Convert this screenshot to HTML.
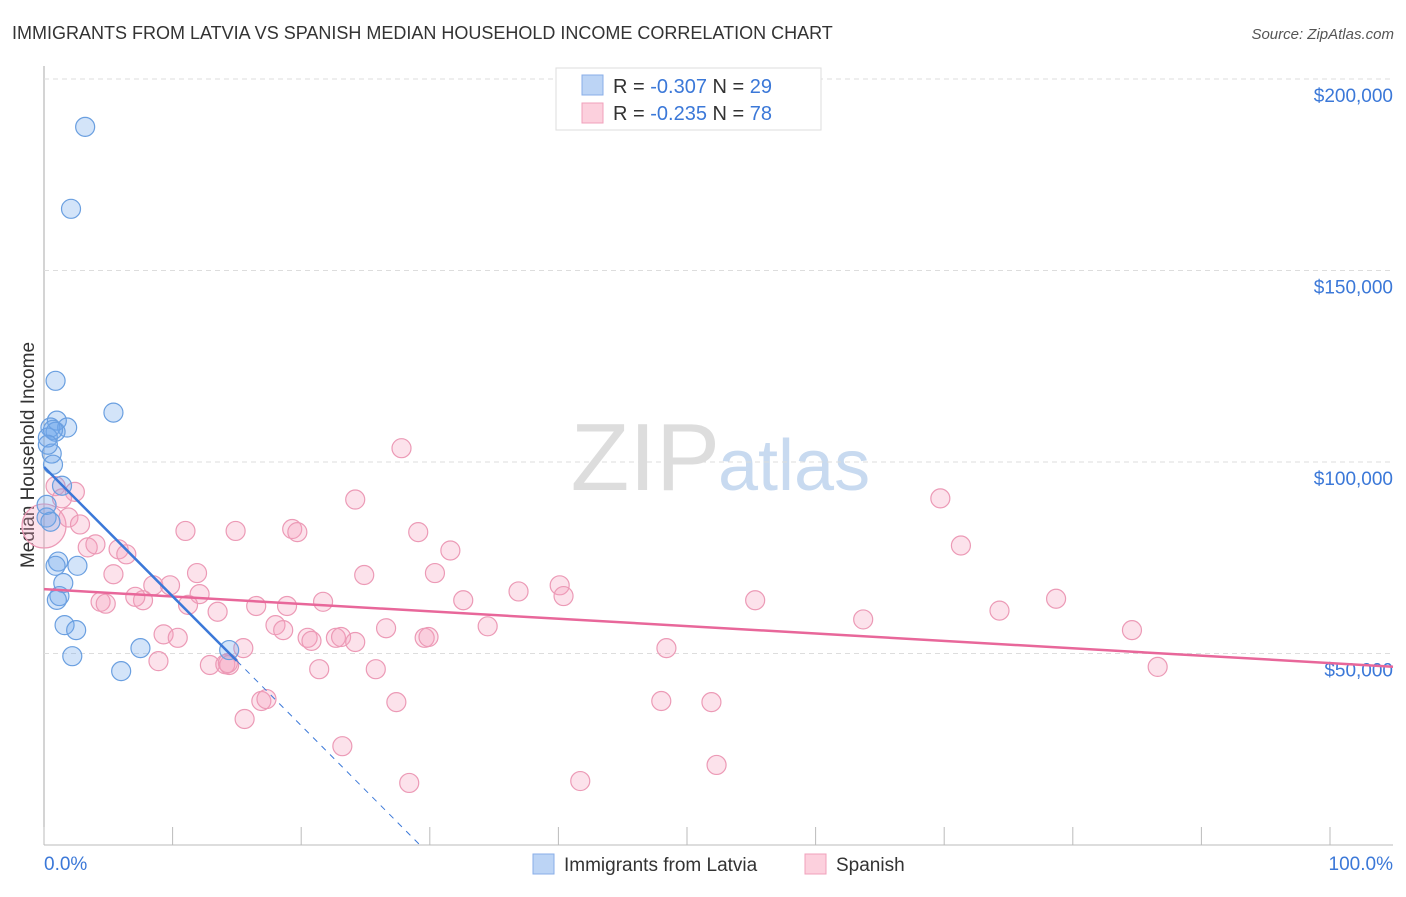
<!DOCTYPE html>
<html><head><meta charset="utf-8"><style>
body{margin:0;background:#fff;font-family:"Liberation Sans",sans-serif;}
svg text{font-family:"Liberation Sans",sans-serif;}
</style></head><body>
<svg id="c" width="1406" height="892">
<text x="12" y="39" font-size="18" fill="#333">IMMIGRANTS FROM LATVIA VS SPANISH MEDIAN HOUSEHOLD INCOME CORRELATION CHART</text>
<text x="1394" y="39" font-size="15" fill="#555" font-style="italic" text-anchor="end">Source: ZipAtlas.com</text>
<text x="720" y="490" font-size="96" fill="#ddd" text-anchor="end" font-family="Liberation Serif">ZIP</text>
<text x="718" y="490" font-size="72" fill="#c8daf0">atlas</text>
<text transform="translate(34,455) rotate(-90)" font-size="19" fill="#333" text-anchor="middle">Median Household Income</text>
<g id="grid"></g><g id="pts"></g><g id="lines"></g>
<g>
<rect x="556" y="68" width="265" height="62" fill="#fff" stroke="#ddd"/>
<rect x="582" y="75" width="21" height="20" fill="#bcd4f5" stroke="#88aee8"/>
<rect x="582" y="103" width="21" height="20" fill="#fcd0dd" stroke="#f0a0bb"/>
<text x="613" y="93" font-size="20" fill="#333">R = <tspan fill="#3b78d8">-0.307</tspan>   N = <tspan fill="#3b78d8">29</tspan></text>
<text x="613" y="120" font-size="20" fill="#333">R = <tspan fill="#3b78d8"> -0.235</tspan>   N = <tspan fill="#3b78d8">78</tspan></text>
</g>
<g>
<rect x="533" y="854" width="21" height="20" fill="#bcd4f5" stroke="#88aee8"/>
<text x="564" y="871" font-size="19" fill="#333">Immigrants from Latvia</text>
<rect x="805" y="854" width="21" height="20" fill="#fcd0dd" stroke="#f0a0bb"/>
<text x="836" y="871" font-size="19" fill="#333">Spanish</text>
</g>
<text x="44" y="870" font-size="19" fill="#3b78d8">0.0%</text>
<text x="1393" y="870" font-size="19" fill="#3b78d8" text-anchor="end">100.0%</text>
</svg>
<script>
const yTicks=[50000,100000,150000,200000];
const yTickLabels=["$50,000","$100,000","$150,000","$200,000"];
const xTicks=[0,10,20,30,40,50,60,70,80,90,100];
const latviaX=[3.2,2.1,0.9,5.4,1.0,1.8,0.5,0.9,0.3,0.6,0.7,1.4,0.2,0.5,1.1,0.9,1.5,1.2,1.0,2.6,1.6,2.5,2.2,7.5,6.0,14.4,0.7,0.3,0.2];
const latviaY=[187500,166100,121200,112900,110800,109000,109000,107900,106400,102200,99300,93800,85500,84400,74000,72900,68400,65000,64000,72900,57400,56100,49300,51400,45400,50900,108400,104500,88800];
const spanishX=[0,0.9,2.4,1.4,1.9,2.8,3.4,4.0,5.4,4.4,4.8,5.8,6.4,8.5,7.7,7.1,9.8,11.0,14.9,11.9,12.1,11.2,9.3,10.4,8.9,12.9,13.5,14.1,14.4,15.5,14.3,15.6,16.9,17.3,16.5,18.0,18.6,18.9,19.3,19.7,20.5,20.8,21.7,21.4,22.7,23.1,24.2,24.2,24.9,25.8,26.6,27.4,27.8,28.4,29.1,29.6,29.9,30.4,31.6,32.6,34.5,36.9,40.1,40.4,41.7,48.0,48.4,51.9,52.3,55.3,63.7,69.7,71.3,74.3,78.7,84.6,86.6,23.2];
const spanishY=[83300,93700,92200,90500,85500,83700,77700,78500,70700,63500,63000,77200,75900,67800,63900,64800,67800,82000,82000,71000,65500,62700,55000,54100,48000,47000,60900,47200,47000,51400,47500,32900,37600,38100,62400,57400,56100,62400,82500,81700,54100,53300,63500,45900,54100,54300,90200,53000,70500,45900,56600,37300,103600,16200,81700,54100,54300,71000,76900,63900,57100,66200,67800,65000,16700,37600,51400,37300,20900,63900,58900,90500,78200,61200,64300,56100,46500,25800];
const spanishTrend=[66800,47500];
const latviaTrend=[98700,-3376];
const X0=44,X1=1330,Y0=845,PXPER=191.5/50000;
const sx=v=>X0+(X1-X0)*v/100, sy=v=>Y0-v*PXPER;
const NS="http://www.w3.org/2000/svg";
function mk(p,t,a){const e=document.createElementNS(NS,t);for(const k in a)e.setAttribute(k,a[k]);p.appendChild(e);return e;}
const grid=document.getElementById('grid');
mk(grid,'line',{x1:X0,y1:66,x2:X0,y2:Y0,stroke:'#aaa'});
mk(grid,'line',{x1:X0,y1:Y0,x2:1393,y2:Y0,stroke:'#bbb'});
yTicks.forEach((t,i)=>{
 const g=mk(grid,'line',{x1:X0,y1:sy(t),x2:1393,y2:sy(t),stroke:'#ddd','stroke-dasharray':'5,4'});
 
 
 const l=mk(grid,'text',{x:1393,y:sy(t)+23,'font-size':19,fill:'#3b78d8','text-anchor':'end'});
 l.textContent=yTickLabels[i];
 
 
});
xTicks.forEach(t=>{
 const k=mk(grid,'line',{x1:sx(t),y1:Y0,x2:sx(t),y2:Y0-18,stroke:'#bbb'});
 
 
});
const pts=document.getElementById('pts');
spanishX.forEach((x,i)=>{
 const c=mk(pts,'circle',{cx:sx(x),cy:sy(spanishY[i]),r:i==0?22:9.5,fill:'rgba(244,160,190,0.3)',stroke:'#ec9ab6','stroke-width':1.2});
 
 
});
latviaX.forEach((x,i)=>{
 const c=mk(pts,'circle',{cx:sx(x),cy:sy(latviaY[i]),r:9.5,fill:'rgba(110,165,235,0.3)',stroke:'#6a9fe0','stroke-width':1.2});
 
 
});
const lines=document.getElementById('lines');
const xe=104.9;
const sl=mk(lines,'line',{x1:sx(0),y1:sy(spanishTrend[0]),x2:sx(xe),y2:sy(spanishTrend[0]+(spanishTrend[1]-spanishTrend[0])*xe/100),stroke:'#e8679a','stroke-width':2.5});


const lt=x=>latviaTrend[0]+latviaTrend[1]*x;
const ll=mk(lines,'line',{x1:sx(0),y1:sy(lt(0)),x2:sx(15),y2:sy(lt(15)),stroke:'#3b78d8','stroke-width':2.5});


const xz=-latviaTrend[0]/latviaTrend[1];
const ld=mk(lines,'line',{x1:sx(15),y1:sy(lt(15)),x2:sx(xz),y2:sy(0),stroke:'#3b78d8','stroke-width':1,'stroke-dasharray':'6,6'});


</script>
</body></html>
